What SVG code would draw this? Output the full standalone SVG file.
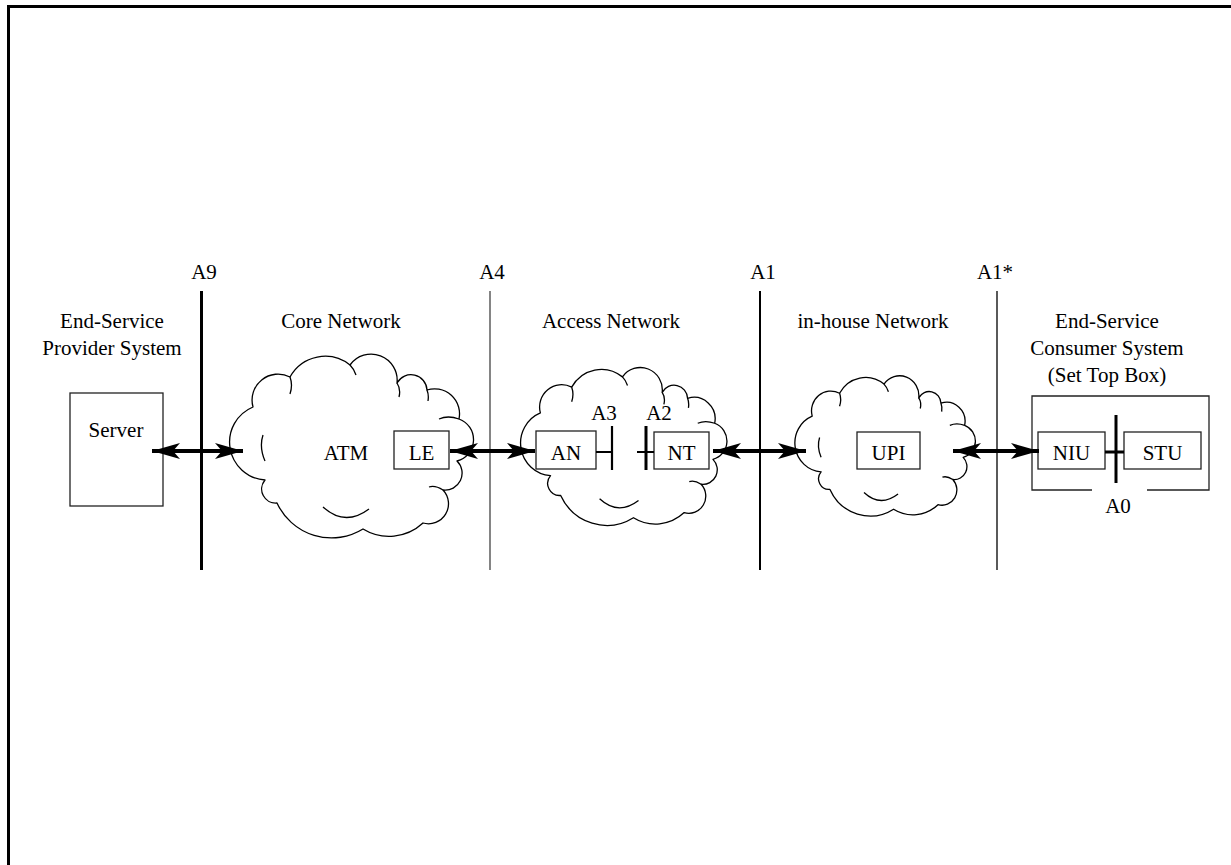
<svg xmlns="http://www.w3.org/2000/svg" width="1231" height="865" viewBox="0 0 1231 865">
<style>
text{font-family:"Liberation Serif","Times New Roman",serif;font-size:21px;fill:#000;text-anchor:middle}
.box{fill:#fff;stroke:#222;stroke-width:1.3}
.cloud{fill:#fff;stroke:#000;stroke-width:1.3;vector-effect:non-scaling-stroke;stroke-linejoin:round}
.inner{fill:none;stroke:#000;stroke-width:1.3;vector-effect:non-scaling-stroke}
.arrow{stroke:#000;stroke-width:4;fill:none;marker-start:url(#ah);marker-end:url(#ah)}
.tick{stroke:#000;stroke-width:3}
.conn{stroke:#000;stroke-width:2}
</style>
<defs>
<marker id="ah" markerUnits="userSpaceOnUse" markerWidth="30" markerHeight="18" refX="28" refY="8" orient="auto-start-reverse">
<path d="M28,8 L0,0 L7,8 L0,16 Z" fill="#000"/>
</marker>
<g id="cloudShape">
<path class="cloud" d="M42,123 A38,38 0 0 1 30,50 A26,26 0 0 1 67,20 A40,40 0 0 1 127,8 A26,26 0 0 1 174,26 A16,16 0 0 1 204,33 A25,25 0 0 1 236,62 A22,22 0 0 1 234,104 A17,17 0 0 1 220,133 A20,20 0 0 1 200,166 A50,50 0 0 1 140,172 A60,60 0 0 1 54,146 A14,14 0 0 1 42,123 Z"/>
<path class="inner" d="M40,78 Q36,90 42,104 M67,20 Q70,28 67,37 M127,8 Q131,12 133,18 M174,26 Q178,32 176,40 M204,33 Q206,38 205,44 M236,62 Q225,58 216,62 M220,133 Q212,128 206,130 M100,150 Q122,170 146,152"/>
</g>
</defs>
<rect width="1231" height="865" fill="#fff"/>
<path d="M8.5,865 V6.5 H1231" fill="none" stroke="#000" stroke-width="3"/>

<g id="boundaries">
<line x1="201.5" y1="291" x2="201.5" y2="570" stroke="#000" stroke-width="3"/>
<text x="204" y="279">A9</text>
<line x1="490" y1="291" x2="490" y2="570" stroke="#333" stroke-width="1.2"/>
<text x="492" y="279">A4</text>
<line x1="760" y1="291" x2="760" y2="570" stroke="#000" stroke-width="2"/>
<text x="763" y="279">A1</text>
<line x1="997" y1="291" x2="997" y2="570" stroke="#000" stroke-width="1.3"/>
<text x="995" y="279">A1*</text>
</g>

<g id="provider">
<text x="112" y="328">End-Service</text>
<text x="112" y="355">Provider System</text>
<rect id="server" class="box" x="70" y="393" width="93" height="113"/>
<text x="116" y="437">Server</text>
</g>

<g id="core-network">
<text x="341" y="328">Core Network</text>
<use href="#cloudShape" transform="translate(223,357)"/>
<text x="346" y="460">ATM</text>
<g id="le"><rect class="box" x="394" y="431" width="55" height="38"/><text x="421.5" y="460">LE</text></g>
</g>

<g id="access-network">
<text x="611" y="328">Access Network</text>
<use href="#cloudShape" transform="translate(515,370) scale(0.846,0.859)"/>
<g id="an"><rect class="box" x="536" y="431" width="60" height="38"/><text x="566" y="460">AN</text></g>
<g id="nt"><rect class="box" x="654" y="432" width="55" height="37"/><text x="681.5" y="460">NT</text></g>
<text x="604" y="420">A3</text>
<text x="659" y="420">A2</text>
</g>

<g id="inhouse-network">
<text x="873" y="328">in-house Network</text>
<use href="#cloudShape" transform="translate(790,378) scale(0.74,0.763)"/>
<g id="upi"><rect class="box" x="857" y="432" width="63" height="37"/><text x="888.5" y="460">UPI</text></g>
</g>

<g id="consumer">
<text x="1107" y="328">End-Service</text>
<text x="1107" y="355">Consumer System</text>
<text x="1107" y="382">(Set Top Box)</text>
<path d="M1092,490 H1032 V396 H1209 V490 H1147" fill="none" stroke="#222" stroke-width="1.3"/>
<text x="1118" y="513">A0</text>
<g id="niu"><rect class="box" x="1038" y="432" width="67" height="37"/><text x="1071.5" y="460">NIU</text></g>
<g id="stu"><rect class="box" x="1124" y="432" width="77" height="37"/><text x="1162.5" y="460">STU</text></g>
</g>

<g id="connectors">
<line class="arrow" x1="152" y1="451" x2="243" y2="451"/>
<line class="arrow" x1="450" y1="451" x2="535" y2="451"/>
<line class="arrow" x1="713" y1="451" x2="806" y2="451"/>
<line class="arrow" x1="953" y1="451" x2="1039" y2="451"/>
<line class="conn" x1="596" y1="452" x2="612" y2="452"/>
<line class="tick" x1="612" y1="426" x2="612" y2="470" style="stroke-width:2.2"/>
<line class="conn" x1="637" y1="452" x2="654" y2="452"/>
<line class="tick" x1="646" y1="426" x2="646" y2="470"/>
<line class="tick" x1="1105" y1="452" x2="1124" y2="452"/>
<line class="tick" x1="1116" y1="415" x2="1116" y2="483"/>
</g>
</svg>
